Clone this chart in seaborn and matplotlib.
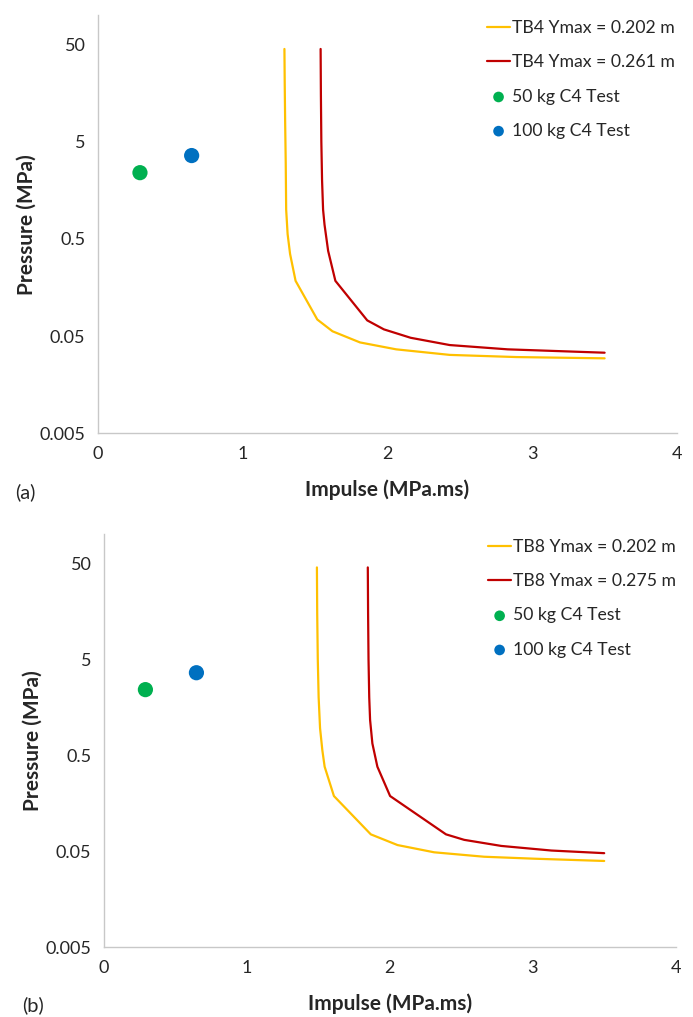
import numpy as np
import matplotlib
matplotlib.use("Agg")
import matplotlib.pyplot as plt
import seaborn as sns

# panel (a) - TB4 curves
tb4_202_x = [1.288, 1.290, 1.293, 1.297, 1.300, 1.310, 1.327, 1.365, 1.515, 1.62, 1.81, 2.06, 2.43, 2.89, 3.5]
tb4_202_y = [45, 20, 8, 3, 1.0, 0.56, 0.35, 0.185, 0.074, 0.056, 0.043, 0.0365, 0.032, 0.0304, 0.0295]
tb4_261_x = [1.538, 1.540, 1.543, 1.548, 1.555, 1.565, 1.59, 1.64, 1.86, 1.975, 2.16, 2.43, 2.83, 3.5]
tb4_261_y = [45, 15, 5, 2, 1.0, 0.7, 0.376, 0.185, 0.0725, 0.0586, 0.048, 0.0404, 0.0365, 0.0337]

# panel (b) - TB8 curves
tb8_202_x = [1.490, 1.492, 1.496, 1.502, 1.512, 1.528, 1.544, 1.609, 1.867, 2.054, 2.31, 2.66, 3.01, 3.5]
tb8_202_y = [45, 15, 5, 2, 0.95, 0.56, 0.378, 0.187, 0.0746, 0.0577, 0.0485, 0.0436, 0.0416, 0.0394]
tb8_275_x = [1.846, 1.848, 1.851, 1.856, 1.862, 1.878, 1.913, 2.002, 2.393, 2.52, 2.78, 3.13, 3.5]
tb8_275_y = [45, 15, 5, 2, 1.16, 0.66, 0.378, 0.187, 0.0746, 0.0654, 0.0565, 0.0506, 0.0475]

# C4 tests
test_labels = ["50 kg C4 Test", "100 kg C4 Test"]
test_x = [0.29, 0.647]
test_y = [2.4, 3.6]

ytick_vals = [0.005, 0.05, 0.5, 5, 50]
ytick_labels = ["0.005", "0.05", "0.5", "5", "50"]

sns.set_style("white")
plt.rcParams['font.family'] = ['Lato', 'DejaVu Sans']

c_yellow = "#FFC000"
c_red = "#C00000"
c_green = "#00B050"
c_blue = "#0070C0"
grey = "#C8C8C8"

fig = plt.figure(figsize=(6.93, 10.17), dpi=100)
ax_a = fig.add_axes([0.1414, 0.574, 0.8355, 0.411])
ax_b = fig.add_axes([0.150, 0.0688, 0.825, 0.406])

panels = [
    (ax_a, tb4_202_x, tb4_202_y, tb4_261_x, tb4_261_y,
     "TB4 Ymax = 0.202 m", "TB4 Ymax = 0.261 m", "(a)"),
    (ax_b, tb8_202_x, tb8_202_y, tb8_275_x, tb8_275_y,
     "TB8 Ymax = 0.202 m", "TB8 Ymax = 0.275 m", "(b)"),
]

for ax, x1, y1, x2, y2, lab1, lab2, tag in panels:
    sns.lineplot(x=x1, y=y1, sort=False, estimator=None, color=c_yellow, lw=1.6, ax=ax, label=lab1)
    sns.lineplot(x=x2, y=y2, sort=False, estimator=None, color=c_red, lw=1.6, ax=ax, label=lab2)
    sns.scatterplot(x=test_x[:1], y=test_y[:1], color=c_green, s=120, edgecolor="none", ax=ax, label=test_labels[0])
    sns.scatterplot(x=test_x[1:], y=test_y[1:], color=c_blue, s=120, edgecolor="none", ax=ax, label=test_labels[1])

    ax.set_yscale("log")
    ax.set_ylim(0.005, 100)
    ax.set_xlim(0, 4)
    ax.set_yticks(ytick_vals)
    ax.set_yticklabels(ytick_labels)
    ax.minorticks_off()
    ax.set_xticks([0, 1, 2, 3, 4])
    ax.tick_params(axis="both", labelsize=13, length=5, width=1, color=grey, direction="out", pad=4)

    for s in ["top", "right"]:
        ax.spines[s].set_visible(False)
    for s in ["left", "bottom"]:
        ax.spines[s].set_color(grey)
        ax.spines[s].set_linewidth(1)

    ax.set_xlabel("Impulse (MPa.ms)", fontsize=15, fontweight="bold", labelpad=13)
    ax.set_ylabel("Pressure (MPa)", fontsize=15, fontweight="bold", labelpad=2)
    ax.text(-0.143, -0.141, tag, transform=ax.transAxes, fontsize=14.5, ha="left", va="center")

    leg = ax.legend(loc="upper left", bbox_to_anchor=(0.672, 0.988), frameon=False, fontsize=12.7,
                    handlelength=1.3, handletextpad=0.1, labelspacing=1.03, borderaxespad=0,
                    borderpad=0, markerscale=0.7)

fig.savefig("out.png", dpi=100)
